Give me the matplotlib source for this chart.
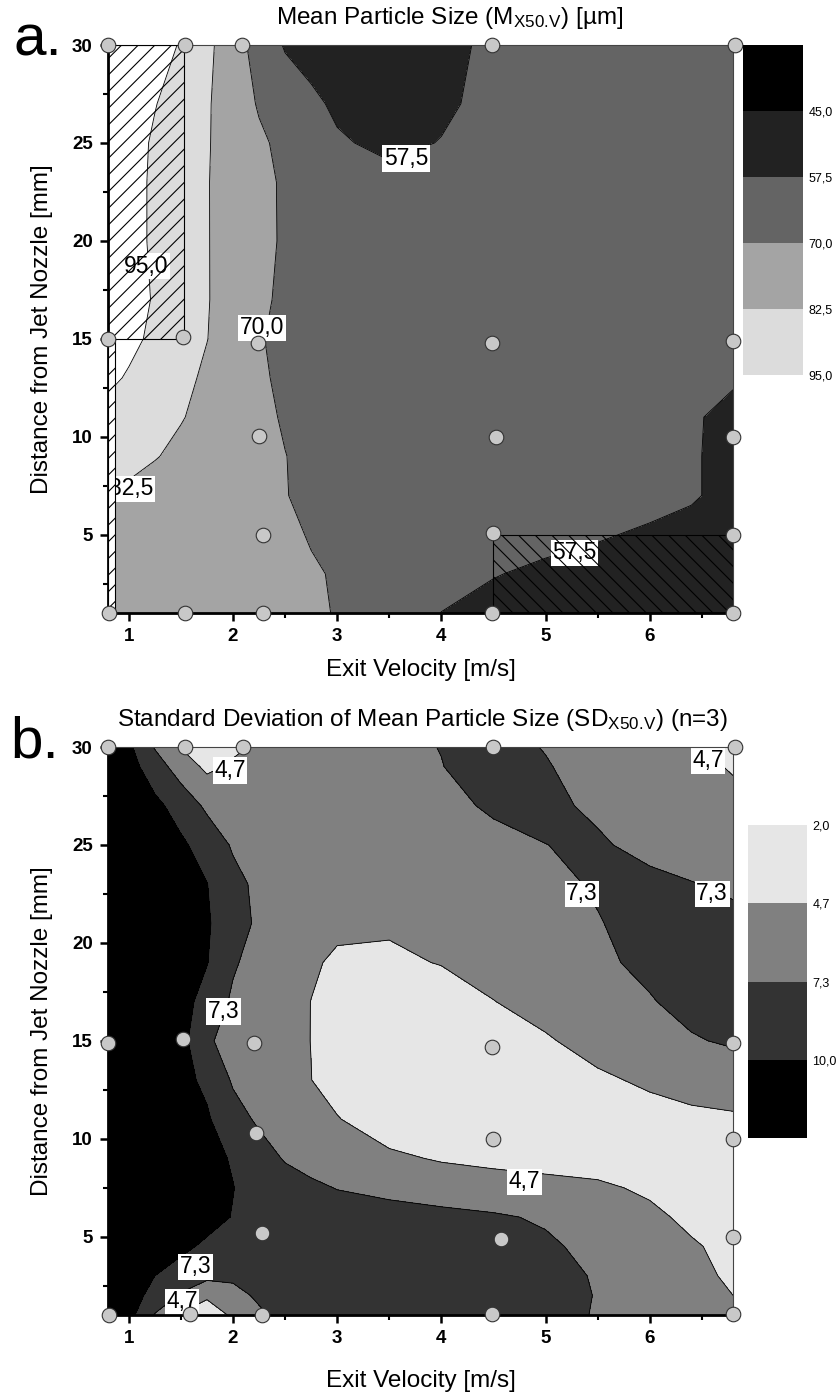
import numpy as np
import matplotlib
matplotlib.use("Agg")
import matplotlib.pyplot as plt
from matplotlib.colors import ListedColormap
from matplotlib.patches import Rectangle, Polygon
from matplotlib.ticker import MultipleLocator

plt.rcParams['font.family'] = ['Liberation Sans', 'DejaVu Sans']
plt.rcParams['mathtext.fontset'] = 'custom'
plt.rcParams['mathtext.rm'] = 'Liberation Sans'
plt.rcParams['mathtext.it'] = 'Liberation Sans:italic'
plt.rcParams['hatch.linewidth'] = 0.8

# exit velocity [m/s] columns of the gridded fields
vel = [0.8, 1.0, 1.25, 1.5, 1.75, 2.0, 2.25, 2.5, 2.75, 3.0, 3.5, 4.0, 4.5, 5.0, 5.5, 6.0, 6.4, 6.8]

# a. mean particle size M_x50.V [um], rows from bottom (1 mm) to top (30 mm)
dist_a = [1, 3, 5, 7, 9, 11, 13, 15, 17, 20, 23, 25, 27, 30]
size_a = [
    [78, 77.5, 76.5, 75.5, 74.5, 73.5, 72.5, 71.5, 70.6, 69.8, 63.5, 57.4, 54, 52, 51, 50, 50, 50],
    [78, 77.5, 76.5, 75.5, 74.5, 73.5, 72.5, 71.5, 70.6, 69.5, 64, 60.5, 58, 55.5, 53.5, 52, 51, 50],
    [79, 78, 77, 76, 75, 74, 72.8, 71.2, 69.6, 67, 64, 62.5, 61.5, 60.5, 58.5, 56, 53, 50],
    [82, 80.5, 78.5, 76.5, 74.5, 72.7, 71, 70.4, 67.5, 66, 64.5, 63.5, 63, 62.5, 62, 61, 59, 53],
    [87, 85.5, 83, 80.4, 77.7, 75.2, 72.6, 70.2, 67.5, 66, 64, 63, 63, 63, 62.5, 61.5, 59, 53],
    [91, 88.8, 86, 83, 80, 76.5, 72.5, 69, 67, 65.5, 64, 63, 63, 63, 63, 62, 59, 54],
    [97.5, 93.8, 89.5, 85.2, 80.8, 76.2, 71.5, 68, 66.5, 65, 64, 63.5, 63, 63, 62.5, 62, 61, 59],
    [103, 98, 92.6, 87.6, 82.7, 77.4, 70.7, 67.5, 66, 65, 64, 63.5, 63, 63, 63, 62.5, 61.5, 61],
    [104, 100, 94, 89, 83.1, 77.6, 72, 68, 66, 65, 64, 63.5, 63, 63, 63, 63, 62.5, 62],
    [104, 99.5, 93, 88, 83, 78.2, 73.3, 68.5, 66.5, 65, 64, 63.5, 63, 63, 63, 63, 63, 63],
    [104, 99.5, 93, 88, 83, 78, 73, 68.5, 66, 64, 60, 61, 62, 63, 63, 63, 63, 63],
    [104, 100, 93.4, 88.3, 83.3, 77.6, 71.8, 67.3, 63.4, 58.5, 55.5, 57.8, 60.5, 62, 63, 63, 63, 63],
    [105, 101, 95.5, 89.6, 83.7, 76.25, 69, 64.1, 59.3, 56, 53, 56, 60, 62, 63, 63, 63, 63],
    [105, 103, 99, 94.3, 85.4, 75.2, 65.4, 56.5, 54, 52, 50.5, 54, 60, 62, 63, 63, 63, 63],
]
levels_a = [45.0, 57.5, 70.0, 82.5, 95.0]

# b. standard deviation SD_x50.V (n=3)
dist_b = [1, 2, 3, 4.5, 6, 7.5, 9, 11, 13, 15, 17, 19, 21, 23, 25, 27, 29, 30]
sd_b = [
    [11.5, 10.9, 7.1, 4.4, 3.6, 5.0, 6.8, 8.2, 8.8, 9.0, 9.1, 9.0, 8.8, 8.3, 7.1, 6.0, 5.4, 4.9],
    [11.8, 10.8, 9.4, 7.0, 5.0, 6.3, 7.8, 8.6, 8.9, 9.0, 9.0, 8.9, 8.7, 8.2, 7.2, 6.2, 5.4, 4.7],
    [12, 11.2, 10.0, 9.0, 8.0, 7.9, 8.3, 8.6, 8.8, 8.9, 8.9, 8.8, 8.6, 8.1, 7.1, 6.1, 5.4, 4.3],
    [12.2, 11.9, 11.3, 10.5, 9.6, 9.1, 8.9, 8.8, 8.8, 8.8, 8.7, 8.5, 8.2, 7.7, 6.6, 5.9, 4.9, 4.2],
    [12.3, 12.1, 11.8, 11.4, 10.8, 9.9, 9.3, 9.0, 8.8, 8.6, 8.3, 8.0, 7.6, 7.0, 6.0, 5.1, 4.3, 3.8],
    [12.4, 12.2, 11.9, 11.5, 10.9, 10.05, 9.1, 8.4, 7.8, 7.2, 6.6, 6.0, 5.6, 5.3, 5.0, 4.4, 3.9, 3.6],
    [12.4, 12.2, 11.8, 11.3, 10.7, 9.8, 8.4, 7.1, 6.3, 5.8, 5.1, 4.5, 4.2, 4.0, 3.9, 3.7, 3.6, 3.5],
    [12.5, 12.2, 11.7, 11.0, 10.3, 8.3, 6.9, 6.0, 5.4, 4.8, 3.5, 3.0, 2.9, 3.0, 3.3, 3.8, 4.2, 4.4],
    [12.6, 12.2, 11.5, 10.7, 9.5, 7.0, 6.1, 5.4, 4.72, 3.9, 3.2, 2.9, 3.0, 3.5, 4.3, 5.1, 5.6, 5.9],
    [12.8, 12.4, 11.6, 10.9, 7.6, 6.5, 5.8, 5.2, 4.68, 3.7, 3.1, 3.0, 3.4, 4.45, 5.6, 6.4, 7.1, 7.6],
    [13, 12.7, 12, 11.0, 9.0, 6.9, 6.0, 5.4, 4.68, 3.9, 3.4, 3.6, 4.65, 5.6, 6.3, 7.15, 8.0, 8.5],
    [13, 12.8, 12.2, 11.3, 10.1, 7.6, 6.3, 5.6, 4.95, 4.4, 4.3, 4.8, 5.6, 6.3, 6.9, 7.8, 8.4, 8.6],
    [13, 12.8, 12.2, 11.4, 10.3, 8.3, 6.9, 6.1, 5.5, 5.1, 5.0, 5.3, 5.9, 6.5, 7.2, 8.0, 8.2, 7.9],
    [13, 12.7, 12, 11.2, 10.05, 8.1, 6.7, 6.0, 5.6, 5.5, 5.6, 5.9, 6.3, 6.8, 7.5, 7.9, 7.4, 6.9],
    [13, 12.5, 11.5, 10.4, 9.0, 7.0, 6.2, 5.8, 5.7, 5.8, 6.1, 6.5, 6.9, 7.28, 7.6, 6.6, 6.1, 5.6],
    [12.5, 11.5, 10.6, 9.0, 6.8, 6.0, 5.6, 5.6, 5.8, 6.0, 6.4, 6.9, 7.5, 7.8, 6.9, 6.2, 5.7, 5.2],
    [12, 11, 8.6, 6.0, 4.2, 5.0, 5.6, 6.0, 6.2, 6.4, 6.9, 7.25, 8.2, 7.45, 6.4, 5.7, 5.2, 4.55],
    [11.5, 10.5, 7.1, 4.6, 3.9, 4.3, 5.0, 5.6, 6.0, 6.3, 6.8, 7.35, 8.0, 7.2, 6.3, 5.7, 5.1, 4.5],
]
levels_b = [2.0, 4.7, 7.3, 10.0]

# measuring positions (velocity, distance)
pts_a_x = [0.8, 1.54, 2.09, 4.49, 6.82, 0.8, 1.52, 2.24, 4.49, 6.8, 2.25, 4.52, 6.8,
           2.29, 4.5, 6.8, 0.81, 1.54, 2.29, 4.49, 6.8]
pts_a_y = [30, 30, 30, 30, 30, 15, 15.1, 14.8, 14.8, 14.9, 10.05, 10.0, 10.0,
           5.0, 5.1, 5.0, 1.0, 1.0, 1.0, 1.0, 1.0]
pts_b_x = [0.8, 1.54, 2.1, 4.5, 6.82, 0.8, 1.52, 2.2, 4.49, 6.8, 2.22, 4.5, 6.8,
           2.28, 4.57, 6.8, 0.81, 1.59, 2.28, 4.49, 6.8]
pts_b_y = [30, 30, 30, 30, 30, 14.9, 15.1, 14.9, 14.7, 14.9, 10.3, 10.0, 10.0,
           5.2, 4.9, 5.0, 1.0, 1.05, 1.0, 1.05, 1.05]

# contour labels (text, velocity, distance)
labels_a = [("57,5", 3.66, 24.2), ("95,0", 1.17, 18.7), ("70,0", 2.28, 15.56),
            ("82,5", 1.02, 7.35), ("57,5", 5.28, 4.08)]
labels_b = [("4,7", 1.97, 28.8), ("4,7", 6.56, 29.3), ("7,3", 5.35, 22.5),
            ("7,3", 6.6, 22.5), ("7,3", 1.91, 16.5), ("4,7", 4.8, 7.8),
            ("7,3", 1.64, 3.46), ("4,7", 1.51, 1.67)]

colors_a = ['#000000', '#222222', '#646464', '#a4a4a4', '#dcdcdc', '#ffffff']
colors_b = ['#ffffff', '#e6e6e6', '#808080', '#333333', '#000000']

# subscript of the particle size symbol (negative space undoes mathtext's gap after '.')
sub = r"$_{\mathrm{X50.}\!\mathrm{V}}$"

W, H = 838, 1396
fig = plt.figure(figsize=(W / 100, H / 100), dpi=100)


def px_axes(x0, y0, x1, y1):
    return fig.add_axes([x0 / W, 1 - y1 / H, (x1 - x0) / W, (y1 - y0) / H])


def fmt(v):
    return f"{v:.1f}".replace('.', ',')


def style_axes(ax):
    ax.set_xlim(0.8, 6.8)
    ax.set_ylim(1, 30)
    ax.xaxis.set_major_locator(MultipleLocator(1))
    ax.xaxis.set_minor_locator(MultipleLocator(0.5))
    ax.yaxis.set_major_locator(MultipleLocator(5))
    ax.yaxis.set_minor_locator(MultipleLocator(2.5))
    ax.tick_params(which='major', direction='out', length=6, width=1.8, labelsize=13.5, pad=5)
    ax.tick_params(which='minor', direction='out', length=3.5, width=1.5)
    for lab in ax.get_xticklabels() + ax.get_yticklabels():
        lab.set_fontweight('bold')
    for side in ('left', 'bottom'):
        ax.spines[side].set_linewidth(2.0)
    for side in ('top', 'right'):
        ax.spines[side].set_linewidth(0.8)
        ax.spines[side].set_color('#444444')
    ax.set_ylabel("Distance from Jet Nozzle [mm]", fontsize=17.5)
    ax.yaxis.set_label_coords(-0.088, 0.5)


def add_labels(ax, labels, z):
    for txt, x, y in labels:
        ax.text(x, y, txt, ha='center', va='center', fontsize=16.5, zorder=z,
                bbox=dict(facecolor='white', edgecolor='none', pad=1.2))


def colorbar(cax, colors, ticks, tick_pos):
    n = len(colors)
    cax.pcolormesh([0, 1], np.arange(n + 1), np.arange(n).reshape(-1, 1),
                   cmap=ListedColormap(colors), vmin=-0.5, vmax=n - 0.5)
    cax.set_xlim(0, 1)
    cax.set_ylim(n, 0)
    cax.set_xticks([])
    cax.yaxis.tick_right()
    cax.set_yticks(tick_pos)
    cax.set_yticklabels([fmt(t) for t in ticks], fontsize=9)
    cax.tick_params(axis='y', length=0, pad=4)
    for s in cax.spines.values():
        s.set_visible(False)


# ---- a. mean particle size ----
ax_a = px_axes(108, 45, 733, 613)
za = np.array(size_a)
ax_a.contourf(vel, dist_a, za, levels=[0] + levels_a + [200], colors=colors_a, zorder=1)
ax_a.contour(vel, dist_a, za, levels=levels_a, colors='black', linewidths=0.6, zorder=2)
add_labels(ax_a, labels_a, 2.5)
# blanked strip and hatched regions
ax_a.add_patch(Rectangle((0.8, 1), 0.07, 14, facecolor='white', edgecolor='none', zorder=2.7))
ax_a.add_patch(Polygon([(0.8, 1), (0.87, 1), (0.87, 15), (1.53, 15), (1.53, 30), (0.8, 30)],
                       closed=True, facecolor='none', edgecolor='black', hatch='//',
                       linewidth=0.8, zorder=3))
ax_a.add_patch(Rectangle((4.5, 1), 2.3, 4, facecolor='none', edgecolor='black', hatch='\\\\',
                         linewidth=0.8, zorder=3))
ax_a.scatter(pts_a_x, pts_a_y, s=110, facecolor='#c8c8c8', edgecolor='#333333',
             linewidth=0.8, zorder=5, clip_on=False)
style_axes(ax_a)
ax_a.set_xlabel("Exit Velocity [m/s]", fontsize=17.5)
ax_a.xaxis.set_label_coords(0.5, -0.081)
ax_a.text(0.546, 1.0475, "Mean Particle Size (M" + sub + ") [µm]",
          transform=ax_a.transAxes, ha='center', va='center', fontsize=17.5)
fig.text(13 / W, 1 - 55 / H, "a.", fontsize=42, ha='left', va='baseline')

cax_a = px_axes(743, 45, 803, 375)
colorbar(cax_a, colors_a[:5], levels_a, [1, 2, 3, 4, 5])

# ---- b. standard deviation ----
ax_b = px_axes(108, 747, 733, 1315)
zb = np.array(sd_b)
ax_b.contourf(vel, dist_b, zb, levels=[0] + levels_b + [50], colors=colors_b, zorder=1)
ax_b.contour(vel, dist_b, zb, levels=levels_b, colors='black', linewidths=0.6, zorder=2)
add_labels(ax_b, labels_b, 2.5)
ax_b.scatter(pts_b_x, pts_b_y, s=110, facecolor='#c8c8c8', edgecolor='#333333',
             linewidth=0.8, zorder=5, clip_on=False)
style_axes(ax_b)
ax_b.set_xlabel("Exit Velocity [m/s]", fontsize=17.5)
ax_b.xaxis.set_label_coords(0.5, -0.097)
ax_b.text(0.503, 1.0475, "Standard Deviation of Mean Particle Size (SD" + sub + ") (n=3)",
          transform=ax_b.transAxes, ha='center', va='center', fontsize=17.5)
fig.text(10 / W, 1 - 757 / H, "b.", fontsize=42, ha='left', va='baseline')

cax_b = px_axes(748, 825, 807, 1138)
colorbar(cax_b, colors_b[1:], levels_b, [0, 1, 2, 3])

fig.savefig("out.png", dpi=100)
